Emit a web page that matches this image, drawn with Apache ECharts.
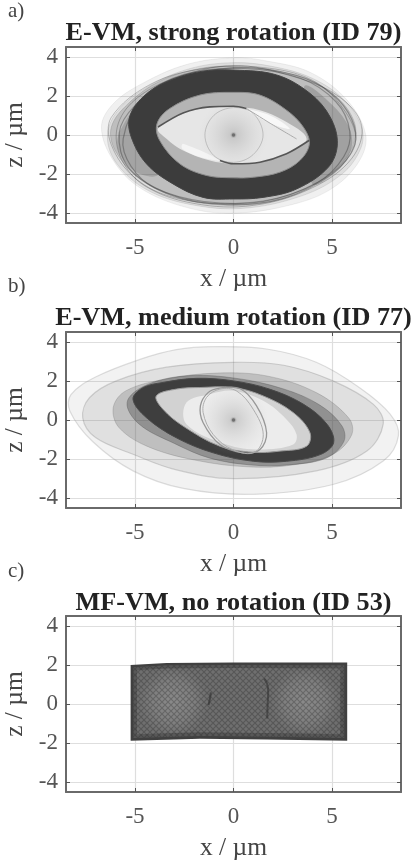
<!DOCTYPE html>
<html><head><meta charset="utf-8">
<style>html,body{margin:0;padding:0;background:#fff}#c{width:414px;height:863px;filter:blur(0.6px)}</style>
<script src="https://cdn.jsdelivr.net/npm/echarts@6/dist/echarts.min.js"></script>
</head><body><div id="c"></div>
<script>
const xTicks=[-5,0,5];
const zTicks=[-4,-2,0,2,4];
const panelTags=['a)','b)','c)'];
const titles=['E-VM, strong rotation (ID 79)','E-VM, medium rotation (ID 77)','MF-VM, no rotation (ID 53)'];
const origin=[[0,0]];

// panel a: envelopes (x, z in um)
const aHalo=[[0,3.95],[1.7,3.78],[3.9,3.2],[5.75,1.8],[6.7,0.05],[6.4,-1.3],[5.05,-2.7],[3,-3.55],[0,-4],[-2.4,-3.7],[-4.75,-2.7],[-6.1,-1.3],[-6.7,0.4],[-6.1,1.6],[-4.6,2.65],[-2.4,3.6]];
const aHalo2=[[0,3.7],[2,3.5],[4,2.9],[5.6,1.8],[6.5,0.4],[6.45,-0.7],[5.5,-2],[3.5,-3.1],[0.5,-3.75],[-2.2,-3.55],[-4.4,-2.8],[-5.9,-1.5],[-6.4,-0.1],[-5.9,1.2],[-4.3,2.5],[-2.2,3.4]];
const aMid=[[0,3.5],[3,3.1],[5.05,2.1],[6.15,0.6],[5.95,-0.8],[4.7,-2.15],[2.5,-3.25],[0,-3.6],[-2.7,-3.25],[-4.75,-2.25],[-6,-0.8],[-6.2,0.4],[-5.35,1.6],[-3.75,2.75],[-1.7,3.4]];
const aCrescentR=[[3.6,2.5],[5,1.55],[5.9,0.3],[5.95,-0.8],[5.2,-1.9],[4,-2.5],[4,0]];
const aCrescentL=[[-4.8,1.4],[-5.6,0.5],[-5.9,-0.5],[-5.4,-1.5],[-4.6,-2.05],[-3.8,-2],[-3.8,-0.5]];
const aOrbit1=[[-6.2,0.9],[-4.2,2.6],[-1.5,3.4],[1.5,3.45],[4,2.8],[5.6,1.3],[6.2,-0.3],[5.3,-1.7],[3,-3],[0,-3.5],[-3,-3.2],[-5,-2.2],[-6.2,-0.5]];
const aOrbit2=[[-5.9,0.4],[-5,1.8],[-3,2.9],[0,3.55],[3,3],[5.3,2],[6.5,0.5],[6,-1.2],[4,-2.7],[1,-3.6],[-2,-3.5],[-4.5,-2.6],[-5.7,-1.2]];
const aOrbit3=[[-5.6,-0.2],[-4.6,1.9],[-2.5,3.1],[0.5,3.4],[3.4,2.9],[5.2,1.7],[5.9,0.2],[5.6,-1.1],[4.3,-2.4],[1.5,-3.4],[-1.5,-3.4],[-4,-2.7],[-5.2,-1.6]];
const aOrbit4=[[-5.8,0.1],[-5,1.5],[-3.2,2.7],[0,3.45],[3.2,3.05],[5,2.1],[6,0.8],[6.15,-0.5],[5,-2],[2.5,-3.25],[-0.5,-3.55],[-3.2,-3.05],[-5.3,-1.7]];
const aRingOuter=[[0,3.32],[2.19,3.07],[3.88,2.13],[4.9,0.93],[5.27,-0.45],[4.81,-1.65],[3.2,-2.76],[1.5,-3.19],[0,-3.27],[-1.54,-3.19],[-3.07,-2.5],[-4.42,-1.47],[-5.19,-0.1],[-5.27,0.93],[-4.59,1.95],[-3.41,2.72],[-1.71,3.24]];
const aRingInner=[[0,2.18],[1.34,2.04],[2.69,1.27],[3.54,0.41],[3.85,-0.45],[3.37,-1.3],[2.36,-1.9],[1,-2.16],[0,-2.19],[-1.37,-2.07],[-2.73,-1.47],[-3.75,-0.27],[-3.88,0.58],[-3.24,1.35],[-1.71,2.04]];
const aEye=[[-3.83,0.33],[-2.56,1.1],[-1.2,1.4],[0,1.44],[1.34,1.27],[2.53,0.75],[3.71,-0.19],[2.69,-0.96],[1.34,-1.39],[0,-1.47],[-1.2,-1.3],[-2.56,-0.79],[-3.4,-0.19]];
const aGlintTop=[[0.66,1.3],[1.86,1],[2.86,0.32],[1.9,0.58]];
const aGlintBottom=[[-2.56,-0.45],[-0.69,-1.3],[-1.71,-1.13],[-2.6,-0.7]];
const aEyeTop=[[-3.83,0.41],[-2.56,1.13],[-1.2,1.44],[0,1.47],[0.66,1.35]];
const aEyeFaint=[[0.66,1.35],[1.86,0.6],[3.2,-0.2]];
const aEyeBottom=[[3.85,-0.27],[2.69,-0.96],[1.34,-1.39],[0,-1.47],[-0.69,-1.3]];
const aLoop=[[0,1.4],[1,1.1],[1.5,0],[1,-1],[0,-1.4],[-1,-1.05],[-1.45,0],[-1,1]];

// panel b
const bOuterA=[[-1.03,3.75],[1.68,3.63],[4.2,2.95],[6.4,1.65],[7.95,0.3],[8.37,-0.8],[7.6,-2.1],[5.05,-3.3],[1,-3.8],[-2.55,-3.5],[-5.1,-2.6],[-7.15,-1.1],[-8.3,0.45],[-8.25,1.3],[-7,2.2],[-4.75,3.1],[-2.9,3.6]];
const bOuterB=[[0,2.95],[2.55,2.8],[5.05,2],[7.1,0.8],[7.6,-0.2],[6.75,-1.6],[4.2,-2.6],[0,-3],[-2.9,-2.55],[-5.1,-1.75],[-7,-0.9],[-7.65,0.1],[-7.3,1.15],[-5.95,2],[-3.4,2.7]];
const bMid=[[-0.85,2.4],[1.7,2.25],[4.2,1.4],[5.85,0.1],[6,-0.75],[5.05,-1.75],[3,-2.3],[0.85,-2.4],[-1.7,-2.1],[-4.25,-1.4],[-5.8,-0.4],[-6.1,0.65],[-5.45,1.5],[-3.4,2.1]];
const bMid2=[[-5.4,0.9],[-4.5,1.75],[-2.5,2.25],[0,2.15],[2.5,1.6],[4.4,0.75],[5.5,-0.3],[5.6,-1.1],[4.7,-1.95],[2.7,-2.3],[0.9,-2.3],[-1.2,-1.95],[-3,-1.2],[-4.8,-0.2]];
const bRingOuter=[[-3.58,1.92],[-1.88,2.13],[0,2],[1.86,1.57],[3.56,0.8],[4.75,-0.22],[5.08,-1.16],[4.4,-1.77],[2.7,-2.11],[1,-2.11],[-1.03,-1.68],[-2.9,-0.91],[-4.42,0.12],[-5.1,1.06],[-4.6,1.65]];
const bRingInner=[[-3.92,1.23],[-2.9,1.58],[-1.71,1.66],[0,1.66],[1.51,1.23],[3.03,0.38],[3.88,-0.65],[3.71,-1.34],[2.36,-1.59],[1,-1.65],[-0.69,-1.34],[-2.56,-0.31],[-3.58,0.55]];
const bLight=[[-2.39,0.89],[-1.2,1.32],[0,1.49],[1.51,0.98],[2.69,0.03],[3.2,-0.74],[3.03,-1.25],[1.34,-1.51],[-0.36,-1.25],[-2.39,-0.22]];
const bLoop1=[[-0.69,1.63],[0.32,1.61],[1.17,0.72],[1.68,-0.65],[1.34,-1.51],[0.49,-1.68],[-0.69,-1.25],[-1.54,-0.14],[-1.68,0.72],[-1.29,1.4]];
const bLoop2=[[-0.69,1.58],[0.15,1.49],[1,0.55],[1.51,-0.74],[1.08,-1.65],[0,-1.54],[-1.03,-0.74],[-1.54,0.38],[-1.37,1.15]];

// panel c
const cOuter=[[-5.22,2.0],[-3.4,2.1],[0,2.12],[5.77,2.12],[5.77,-1.88],[1.7,-1.82],[-1.7,-1.78],[-5.22,-1.88]];
const cMiddle=[[-5.08,1.88],[-3.4,1.98],[0,2],[5.62,1.98],[5.62,-1.74],[1.7,-1.68],[-1.7,-1.64],[-5.08,-1.74]];
const cInner=[[-4.9,1.72],[-3.4,1.82],[0,1.84],[5.42,1.82],[5.42,-1.55],[1.7,-1.48],[-1.7,-1.44],[-4.9,-1.55]];
const cLeftPale=[[-4.9,1.7],[-1.2,1.75],[-1.2,-1.4],[-4.9,-1.5]];
const cRightPale=[[1.9,1.75],[5.4,1.75],[5.4,-1.5],[1.9,-1.4]];
const cCreaseL=[[-1.15,0.6],[-1.2,0.25],[-1.27,-0.05]];
const cCreaseR=[[1.55,1.3],[1.7,1.05],[1.76,0.6],[1.73,0],[1.71,-0.74]];

const tops=[47,332,616];
const serif='"Liberation Serif"';

function hatch(){
  const s=document.createElement('canvas');s.width=s.height=6;
  const g=s.getContext('2d');
  g.strokeStyle='rgba(25,25,25,.27)';g.lineWidth=1.1;
  g.beginPath();g.moveTo(0,0);g.lineTo(6,6);g.moveTo(6,0);g.lineTo(0,6);g.stroke();
  return {image:s,repeat:'repeat'};
}
const paleGlow={type:'radial',x:.5,y:.5,r:.55,colorStops:[{offset:0,color:'rgba(175,175,175,.42)'},{offset:.6,color:'rgba(170,170,170,.28)'},{offset:1,color:'rgba(160,160,160,0)'}]};

function poly(gi,pts,fill,stroke,lw,smooth){
  return {type:'custom',xAxisIndex:gi*2,yAxisIndex:gi*2,clip:true,data:pts,silent:true,
    renderItem(params,api){
      if(params.dataIndex!==0) return null;
      return {type:'polygon',shape:{points:pts.map(p=>api.coord(p)),smooth:smooth===undefined?0.36:smooth},
        style:{fill:fill||'none',stroke:stroke||'none',lineWidth:lw||0}};
    }};
}
function curve(gi,pts,color,w){
  return {type:'line',xAxisIndex:gi*2,yAxisIndex:gi*2,data:pts,smooth:0.3,showSymbol:false,silent:true,
    lineStyle:{color,width:w}};
}
function glow(gi,size,a){
  return {type:'scatter',xAxisIndex:gi*2,yAxisIndex:gi*2,data:origin,symbolSize:size,silent:true,
    itemStyle:{color:{type:'radial',x:.5,y:.5,r:.5,colorStops:[{offset:0,color:'rgba(90,90,90,'+a+')'},{offset:.1,color:'rgba(130,130,130,'+a*0.4+')'},{offset:1,color:'rgba(190,190,190,0)'}]}}};
}
function dot(gi){
  return {type:'scatter',xAxisIndex:gi*2,yAxisIndex:gi*2,data:origin,symbolSize:3.5,silent:true,itemStyle:{color:'#666'}};
}

const series=[
  poly(0,aHalo,'rgba(110,110,110,.1)','rgba(120,120,120,.1)',1),
  poly(0,aHalo2,'rgba(90,90,90,.13)','rgba(100,100,100,.15)',1),
  poly(0,aMid,'rgba(70,70,70,.2)','rgba(80,80,80,.2)',1),
  poly(0,aCrescentR,'rgba(60,60,60,.22)','none',0),
  poly(0,aCrescentL,'rgba(60,60,60,.2)','none',0),
  poly(0,aOrbit1,'none','rgba(60,60,60,.3)',1),
  poly(0,aOrbit2,'none','rgba(60,60,60,.32)',1),
  poly(0,aOrbit3,'none','rgba(50,50,50,.38)',1.2),
  poly(0,aOrbit4,'none','rgba(50,50,50,.38)',1.2),
  poly(0,aRingOuter,'#3c3c3c','#444',1),
  poly(0,aRingInner,'#b4b4b4','#8c8c8c',1),
  poly(0,aEye,'#e6e6e6','none',0),
  poly(0,aGlintTop,'rgba(255,255,255,.7)','none',0),
  poly(0,aGlintBottom,'rgba(255,255,255,.55)','none',0),
  poly(0,aLoop,'none','rgba(140,140,140,.45)',1),
  glow(0,70,.9),dot(0),
  curve(0,aEyeTop,'#555',1.6),
  curve(0,aEyeFaint,'#aaa',1),
  curve(0,aEyeBottom,'#555',1.6),

  poly(1,bOuterA,'rgba(130,130,130,.1)','rgba(130,130,130,.25)',1.2),
  poly(1,bOuterB,'rgba(110,110,110,.13)','rgba(120,120,120,.28)',1.2),
  poly(1,bMid,'rgba(90,90,90,.25)','rgba(100,100,100,.25)',1),
  poly(1,bMid2,'rgba(60,60,60,.35)','rgba(70,70,70,.3)',1),
  poly(1,bRingOuter,'#3e3e3e','#4a4a4a',1),
  poly(1,bRingInner,'#d2d2d2','#9a9a9a',1),
  poly(1,bLight,'#ececec','none',0),
  poly(1,bLoop1,'none','#969696',1.3),
  poly(1,bLoop2,'none','#adadad',1),
  glow(1,70,.9),dot(1),

  poly(2,cOuter,'#404040','none',0,0),
  poly(2,cMiddle,'#585858','none',0,0),
  poly(2,cInner,'#6f6f6f','none',0,0),
  poly(2,cLeftPale,paleGlow,'none',0,0),
  poly(2,cRightPale,paleGlow,'none',0,0),
  poly(2,cMiddle,hatch(),'none',0,0),
  curve(2,cCreaseL,'rgba(45,45,45,.6)',2),
  curve(2,cCreaseR,'rgba(45,45,45,.55)',2)
];

const grid=[],xAxis=[],yAxis=[];
const box={show:true,lineStyle:{color:'#6a6a6a',width:2}};
const tick={show:true,inside:true,length:4,lineStyle:{color:'#555',width:1}};
tops.forEach((t,i)=>{
  grid.push({left:66,width:335,top:t,height:176,show:false,outerBoundsMode:'none'});
  const xb={type:'value',gridIndex:i,min:-8.5,max:8.5,axisLine:{...box,onZero:false}};
  const yb={type:'value',gridIndex:i,min:-4.5,max:4.5,axisLine:{...box,onZero:false}};
  xAxis.push({...xb,position:'bottom',name:'x / µm',nameLocation:'middle',nameGap:43,
    nameTextStyle:{fontFamily:serif,fontSize:25.5,color:'#444'},
    axisTick:{...tick,customValues:xTicks},
    axisLabel:{customValues:xTicks,fontFamily:serif,fontSize:23,color:'#555',margin:13,formatter:v=>String(v)},
    splitLine:{show:true,lineStyle:{color:'#dedede',width:1.2}}});
  xAxis.push({...xb,position:'top',axisTick:{...tick,customValues:xTicks},axisLabel:{show:false},splitLine:{show:false}});
  yAxis.push({...yb,position:'left',name:'z / µm',nameLocation:'middle',nameGap:35,
    nameTextStyle:{fontFamily:serif,fontSize:25.5,color:'#444'},
    axisTick:{...tick,customValues:zTicks},
    axisLabel:{customValues:zTicks,fontFamily:serif,fontSize:23,color:'#555',margin:8,formatter:v=>String(v)},
    splitLine:{show:true,lineStyle:{color:'#dedede',width:1.2}}});
  yAxis.push({...yb,position:'right',axisTick:{...tick,customValues:zTicks},axisLabel:{show:false},splitLine:{show:false}});
});

const titleY=[20.5,305.5,590];
const tagY=[1,276,561];
const title=[];
titles.forEach((t,i)=>title.push({text:t,left:233.5,top:titleY[i],textAlign:'center',padding:0,
  textStyle:{fontFamily:serif,fontSize:26.2,fontWeight:'bold',color:'#222'}}));
panelTags.forEach((t,i)=>title.push({text:t,left:8,top:tagY[i],padding:0,
  textStyle:{fontFamily:serif,fontSize:21,fontWeight:'normal',color:'#444'}}));

const chart=echarts.init(document.getElementById('c'),null,{renderer:'canvas'});
chart.setOption({animation:false,backgroundColor:'#fff',title,grid,xAxis,yAxis,series});
</script></body></html>
